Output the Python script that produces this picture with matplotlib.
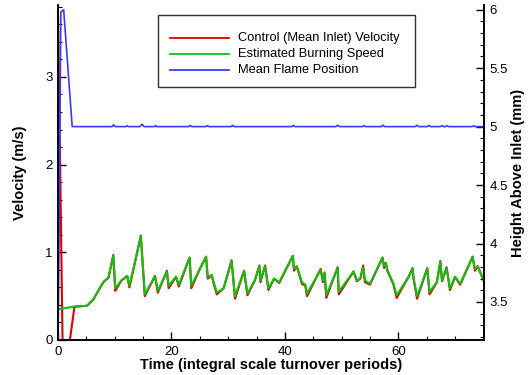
import matplotlib
matplotlib.use("Agg")
import matplotlib.pyplot as plt
from matplotlib.ticker import MultipleLocator
from matplotlib.lines import Line2D
from matplotlib.patches import Rectangle

plt.rcParams['font.family'] = ['Liberation Sans', 'DejaVu Sans']

# ---- data ----
burn_t = [0, 2.7, 5.1, 6.2, 8.0, 8.9, 9.75, 10.1, 11.2, 12.2, 12.6, 14.6, 15.3, 17.1, 17.6,
          19.2, 19.5, 20.8, 21.3, 23.2, 23.5, 25.0, 26.1, 26.4, 27.1, 27.5, 28.0, 29.2, 30.6,
          31.2, 32.8, 33.4, 34.7, 35.5, 35.7, 36.5, 37.1, 38.1, 39.0, 41.4, 41.6, 42.1, 43.0,
          43.6, 43.9, 46.3, 46.7, 47.0, 47.3, 49.3, 49.5, 52.1, 52.7, 53.3, 53.8, 54.1, 55.0,
          57.2, 57.5, 57.8, 58.1, 59.1, 59.7, 61.8, 62.5, 62.7, 63.3, 65.1, 65.5, 66.8, 67.4,
          67.7, 68.5, 69.1, 70.0, 70.9, 73.1, 73.5, 74.0, 75.0]
burn_v = [0.35, 0.38, 0.39, 0.46, 0.66, 0.71, 0.96, 0.59, 0.68, 0.73, 0.62, 1.18, 0.52, 0.73,
          0.56, 0.78, 0.62, 0.72, 0.63, 0.94, 0.62, 0.81, 0.95, 0.72, 0.74, 0.65, 0.54, 0.59,
          0.90, 0.50, 0.79, 0.53, 0.68, 0.84, 0.68, 0.84, 0.59, 0.70, 0.66, 0.96, 0.81, 0.84,
          0.66, 0.63, 0.53, 0.80, 0.68, 0.76, 0.51, 0.82, 0.55, 0.78, 0.68, 0.70, 0.83, 0.68,
          0.64, 0.94, 0.84, 0.87, 0.79, 0.65, 0.51, 0.72, 0.81, 0.70, 0.50, 0.81, 0.55, 0.66,
          0.89, 0.68, 0.82, 0.59, 0.72, 0.64, 0.95, 0.81, 0.84, 0.69]

ctrl_t = [0, 0.8, 2.1, 2.9] + burn_t[2:]
ctrl_v = [3.75, 0.0, 0.0, 0.38,
          0.39, 0.46, 0.66, 0.71, 0.97, 0.56, 0.68, 0.73, 0.60, 1.19, 0.50, 0.73, 0.54, 0.79,
          0.59, 0.72, 0.61, 0.94, 0.59, 0.81, 0.95, 0.70, 0.74, 0.63, 0.52, 0.59, 0.91, 0.47,
          0.79, 0.51, 0.68, 0.85, 0.66, 0.85, 0.57, 0.70, 0.65, 0.96, 0.79, 0.84, 0.64, 0.62,
          0.50, 0.81, 0.66, 0.77, 0.48, 0.83, 0.52, 0.78, 0.67, 0.70, 0.85, 0.66, 0.63, 0.94,
          0.82, 0.88, 0.78, 0.64, 0.48, 0.72, 0.82, 0.69, 0.47, 0.82, 0.52, 0.66, 0.90, 0.67,
          0.83, 0.57, 0.72, 0.63, 0.95, 0.79, 0.84, 0.68]

flame_t = [0, 0.5, 1.0, 2.5, 9.5, 9.8, 10.1, 12.0, 12.2, 12.4, 14.4, 14.8, 15.2, 17.0, 17.2,
           17.4, 23.0, 23.3, 23.6, 26.0, 26.3, 26.6, 30.5, 30.8, 31.1, 41.2, 41.5, 41.8, 49.0,
           49.3, 49.6, 53.6, 53.9, 54.2, 57.0, 57.3, 57.6, 63.0, 63.3, 63.6, 65.1, 65.4, 65.7,
           67.4, 67.7, 68.0, 68.3, 68.6, 68.9, 73.0, 73.3, 73.6, 75.0]
flame_h = [3.0, 5.98, 6.0, 5.0, 5.0, 5.015, 5.0, 5.0, 5.008, 5.0, 5.0, 5.02, 5.0, 5.0, 5.008,
           5.0, 5.0, 5.01, 5.0, 5.0, 5.008, 5.0, 5.0, 5.01, 5.0, 5.0, 5.01, 5.0, 5.0,
           5.012, 5.0, 5.0, 5.008, 5.0, 5.0, 5.012, 5.0, 5.0, 5.012, 5.0, 5.0, 5.01, 5.0,
           5.0, 5.008, 5.0, 5.0, 5.008, 5.0, 5.0, 5.006, 5.0, 5.0]

labels = ["Control (Mean Inlet) Velocity", "Estimated Burning Speed", "Mean Flame Position"]
colors = ["#e00000", "#10c010", "#3a3aff"]

# ---- figure ----
fig = plt.figure(figsize=(5.3, 3.75), dpi=100)
ax = fig.add_axes([58/530, 35/375, (484-58)/530, (340-5)/375])
ax2 = ax.twinx()

ax.plot(ctrl_t, ctrl_v, color=colors[0], lw=1.5, zorder=2)
ax.plot(burn_t, burn_v, color=colors[1], lw=1.5, zorder=3)
ax2.plot(flame_t, flame_h, color=colors[2], lw=1.2)

ax.set_xlim(0, 75.1)
ax.set_ylim(0, 3.82)
ax2.set_ylim(3.175, 6.04)

ax.xaxis.set_major_locator(MultipleLocator(20))
ax.xaxis.set_minor_locator(MultipleLocator(5))
ax.yaxis.set_major_locator(MultipleLocator(1))
ax.yaxis.set_minor_locator(MultipleLocator(0.2))
ax2.yaxis.set_minor_locator(MultipleLocator(0.1))
ax2.set_yticks([3.5, 4, 4.5, 5, 5.5, 6])
ax2.set_yticklabels(["3.5", "4", "4.5", "5", "5.5", "6"])

for a in (ax, ax2):
    a.spines['top'].set_visible(False)
    for s in a.spines.values():
        s.set_linewidth(1.2)
    a.tick_params(which='major', direction='in', length=6, width=1.0, labelsize=9.5, pad=4)
    a.tick_params(which='minor', direction='in', length=3, width=0.8)
ax.tick_params(axis='x', which='both', top=False)

ax.set_xlabel("Time (integral scale turnover periods)", fontsize=10.5, fontweight='bold', labelpad=0)
ax.set_ylabel("Velocity (m/s)", fontsize=10.5, fontweight='bold', labelpad=13)
ax2.set_ylabel("Height Above Inlet (mm)", fontsize=10.5, fontweight='bold', labelpad=2)

# ---- legend box ----
def fx(px):
    return px / 530
def fy(py):
    return 1 - py / 375

fig.patches.append(Rectangle((fx(158), fy(87)), fx(415) - fx(158), fy(15) - fy(87),
                             transform=fig.transFigure, facecolor='white',
                             edgecolor='#333333', lw=1.0, zorder=10))
for i, (lab, c) in enumerate(zip(labels, colors)):
    y = 38 + 16 * i
    fig.lines.append(Line2D([fx(170), fx(229)], [fy(y), fy(y)], color=c, lw=1.3,
                            transform=fig.transFigure, zorder=11))
    fig.text(fx(238), fy(y), lab, fontsize=9.3, va='center', ha='left', zorder=12)

fig.savefig("out.png", dpi=100)
